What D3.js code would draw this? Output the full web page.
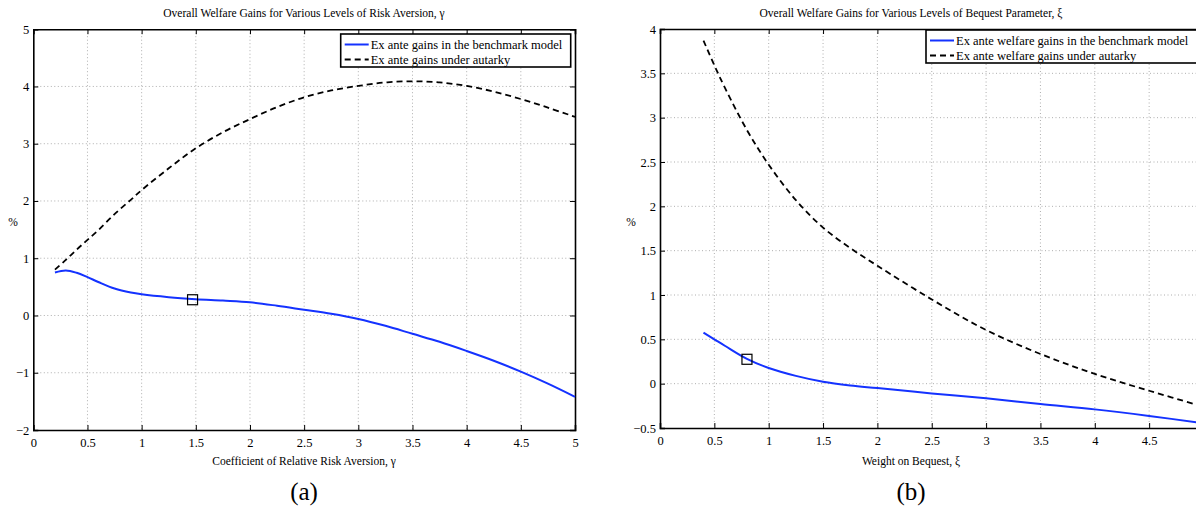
<!DOCTYPE html>
<html>
<head>
<meta charset="utf-8">
<script src="https://cdn.jsdelivr.net/npm/d3@7"></script>
<style>
  html, body { margin: 0; padding: 0; background: #fff; overflow: hidden; }
  svg { display: block; }
  text { font-family: "Liberation Serif", "DejaVu Serif", serif; fill: #000; }
</style>
</head>
<body>
<svg id="fig" width="1196" height="508"></svg>
<script>
// Panel (a): welfare gains against the coefficient of relative risk aversion
const riskAversion = [0.2, 0.3, 0.4, 0.5, 0.6, 0.75, 0.9, 1, 1.25, 1.5, 1.75, 2, 2.25, 2.5, 2.75, 3, 3.25, 3.5, 3.75, 4, 4.25, 4.5, 4.75, 5];
const gainsBenchmarkA = [0.75, 0.785, 0.745, 0.67, 0.585, 0.47, 0.40, 0.37, 0.32, 0.285, 0.26, 0.23, 0.17, 0.10, 0.03, -0.06, -0.18, -0.32, -0.46, -0.62, -0.79, -0.98, -1.19, -1.42];
const gainsAutarkyA = [0.80, 0.97, 1.15, 1.32, 1.49, 1.77, 2.02, 2.19, 2.57, 2.92, 3.20, 3.43, 3.64, 3.81, 3.93, 4.01, 4.07, 4.09, 4.07, 4.01, 3.91, 3.78, 3.63, 3.47];
const baselineA = [1.47, 0.275];

// Panel (b): welfare gains against the weight on bequest
const bequestWeight = [0.4, 0.5, 0.6, 0.8, 1, 1.25, 1.5, 1.75, 2, 2.5, 3, 3.5, 4, 4.5, 5];
const gainsBenchmarkB = [0.575, 0.50, 0.425, 0.28, 0.177, 0.088, 0.022, -0.02, -0.05, -0.11, -0.165, -0.23, -0.29, -0.364, -0.447];
const gainsAutarkyB = [3.87, 3.59, 3.33, 2.86, 2.47, 2.07, 1.76, 1.53, 1.33, 0.95, 0.605, 0.335, 0.11, -0.08, -0.26];
const baselineB = [0.80, 0.275];

// Tick values
const xTicks = [0, 0.5, 1, 1.5, 2, 2.5, 3, 3.5, 4, 4.5, 5];
const yTicksA = [-2, -1, 0, 1, 2, 3, 4, 5];
const yTicksB = [-0.5, 0, 0.5, 1, 1.5, 2, 2.5, 3, 3.5, 4];

const legendA = ["Ex ante gains in the benchmark model", "Ex ante gains under autarky"];
const legendB = ["Ex ante welfare gains in the benchmark model", "Ex ante welfare gains under autarky"];

const WIDTH = 1196;
const svg = d3.select("#fig");
const fmt = v => String(v).replace("-", "\u2212");

function panel(o) {
  const g = svg.append("g");
  const x = d3.scaleLinear().domain([0, 5]).range([o.left, o.right]);
  const y = d3.scaleLinear().domain(o.yDomain).range([o.bottom, o.top]);

  // dotted grid
  const grid = g.append("g").attr("stroke", "#9a9a9a").attr("stroke-width", 0.8)
    .attr("stroke-dasharray", "1,2.5");
  grid.selectAll(".gx").data(xTicks.slice(1, -1)).join("line")
    .attr("x1", d => x(d)).attr("x2", d => x(d)).attr("y1", o.top).attr("y2", o.bottom);
  grid.selectAll(".gy").data(o.yTicks.slice(1, -1)).join("line")
    .attr("y1", d => y(d)).attr("y2", d => y(d)).attr("x1", o.left).attr("x2", o.right);

  // axes with inward ticks on all four sides
  const ax = d3.axisBottom(x).tickValues(xTicks).tickSize(-5).tickPadding(8)
    .tickFormat(d => (x(d) > WIDTH - 4 ? "" : fmt(d)));
  const gb = g.append("g").attr("transform", `translate(0,${o.bottom})`).call(ax);
  const gt = g.append("g").attr("transform", `translate(0,${o.top})`)
    .call(d3.axisTop(x).tickValues(xTicks).tickSize(-5).tickFormat(""));
  const gl = g.append("g").attr("transform", `translate(${o.left},0)`)
    .call(d3.axisLeft(y).tickValues(o.yTicks).tickSize(-5).tickPadding(4).tickFormat(fmt));
  const gr = g.append("g").attr("transform", `translate(${o.right},0)`)
    .call(d3.axisRight(y).tickValues(o.yTicks).tickSize(-5).tickFormat(""));
  [gb, gt, gl, gr].forEach(a => {
    a.select(".domain").attr("stroke", "#000").attr("stroke-width", 1.6);
    a.selectAll(".tick line").attr("stroke", "#000").attr("stroke-width", 1);
    a.selectAll("text").style("font-family", '"Liberation Serif", serif').style("font-size", "12.5px").attr("fill", "#000");
  });

  const line = d3.line().x(d => x(d[0])).y(d => y(d[1])).curve(d3.curveCatmullRom.alpha(0.5));

  g.append("path").datum(o.xs.map((v, i) => [v, o.auta[i]]))
    .attr("d", line).attr("fill", "none").attr("stroke", "#000")
    .attr("stroke-width", 1.8).attr("stroke-dasharray", "6,4");
  g.append("path").datum(o.xs.map((v, i) => [v, o.bench[i]]))
    .attr("d", line).attr("fill", "none").attr("stroke", "#1432ff")
    .attr("stroke-width", 2);

  // baseline calibration marker
  g.append("rect").attr("x", x(o.mark[0]) - 5).attr("y", y(o.mark[1]) - 5)
    .attr("width", 10).attr("height", 10).attr("fill", "none").attr("stroke", "#000").attr("stroke-width", 1.2);

  // legend
  const lg = g.append("g");
  lg.append("rect").attr("x", o.legX).attr("y", o.legY).attr("width", o.legW).attr("height", 33)
    .attr("fill", "#fff").attr("stroke", "#000").attr("stroke-width", 1.6);
  o.legend.forEach((t, i) => {
    const yy = o.legY + 10.5 + i * 15;
    lg.append("line").attr("x1", o.legX + 4).attr("x2", o.legX + 28).attr("y1", yy).attr("y2", yy)
      .attr("stroke", i === 0 ? "#1432ff" : "#000").attr("stroke-width", i === 0 ? 2 : 1.8)
      .attr("stroke-dasharray", i === 0 ? null : "6,4");
    lg.append("text").attr("x", o.legX + 30).attr("y", yy + 4.5).style("font-size", "12.5px").text(t);
  });

  // titles and labels
  g.append("text").attr("x", o.titleX).attr("y", 17).attr("text-anchor", "middle")
    .style("font-size", "11.5px").text(o.title);
  g.append("text").attr("x", o.titleX).attr("y", 465).attr("text-anchor", "middle")
    .style("font-size", "11.5px").text(o.xlabel);
  g.append("text").attr("x", o.pctX).attr("y", 226).attr("text-anchor", "middle")
    .style("font-size", "11.5px").text("%");
  g.append("text").attr("x", o.titleX).attr("y", 500).attr("text-anchor", "middle")
    .style("font-size", "25px").text(o.tag);
}

panel({
  left: 33.3, right: 575, top: 29.2, bottom: 430, yDomain: [-2, 5], yTicks: yTicksA,
  xs: riskAversion, bench: gainsBenchmarkA, auta: gainsAutarkyA, mark: baselineA,
  legend: legendA, legX: 340.7, legY: 34, legW: 230,
  title: "Overall Welfare Gains for Various Levels of Risk Aversion, \u03b3",
  xlabel: "Coefficient of Relative Risk Aversion, \u03b3", titleX: 304, pctX: 13, tag: "(a)"
});

panel({
  left: 660, right: 1203.5, top: 29, bottom: 428, yDomain: [-0.5, 4], yTicks: yTicksB,
  xs: bequestWeight, bench: gainsBenchmarkB, auta: gainsAutarkyB, mark: baselineB,
  legend: legendB, legX: 926, legY: 30, legW: 273,
  title: "Overall Welfare Gains for Various Levels of Bequest Parameter, \u03be",
  xlabel: "Weight on Bequest, \u03be", titleX: 911, pctX: 631, tag: "(b)"
});
</script>
</body>
</html>
